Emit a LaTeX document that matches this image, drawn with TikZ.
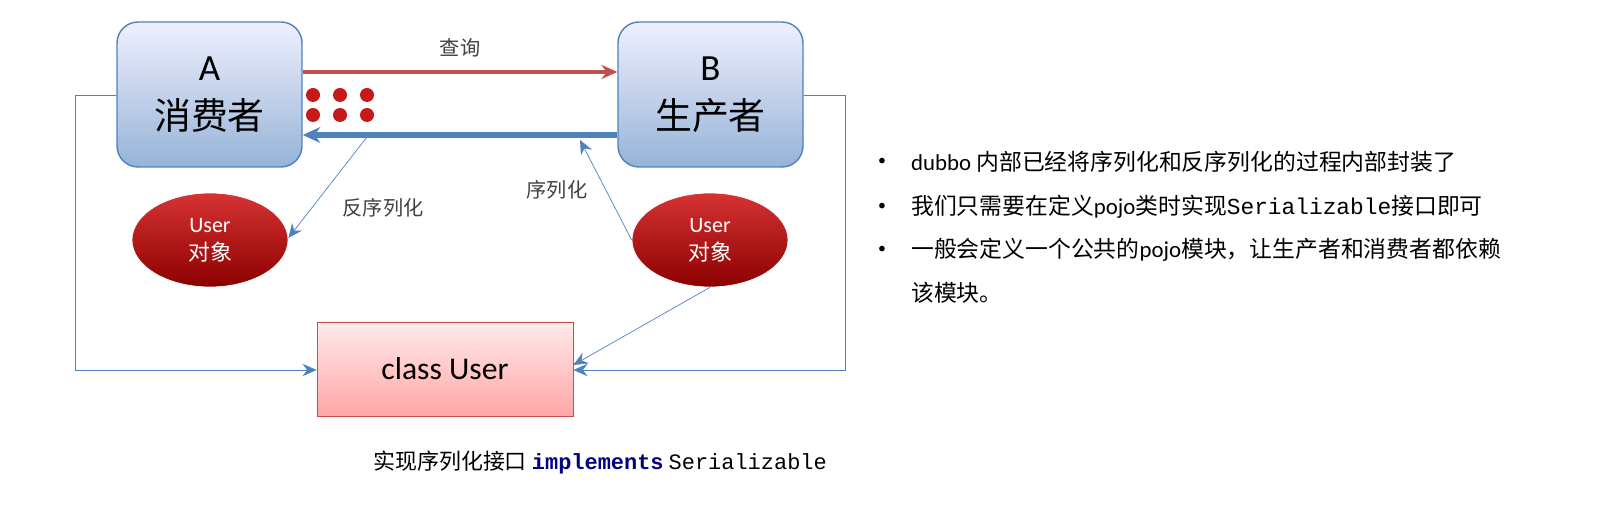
\documentclass[tikz,border=0pt]{standalone}
\usepackage{fontspec}
\setmainfont{Carlito}
\setmonofont{Liberation Mono}
\newfontfamily\cjk{Noto Sans CJK SC}
\usetikzlibrary{shapes.geometric,arrows.meta}
\definecolor{boxblue}{RGB}{79,129,189}
\definecolor{arrred}{RGB}{192,80,77}
\definecolor{kwnavy}{RGB}{0,0,128}
\tikzset{
  rolebox/.style={draw=boxblue, thick, rounded corners=12pt, top color=blue!6, bottom color=boxblue!60,
    minimum width=185*0.02cm, minimum height=145*0.02cm, align=center, font=\fontsize{21}{28}\selectfont},
  userobj/.style={ellipse, draw=white, top color=red!80!black!80, bottom color=red!55!black, text=white,
    minimum width=156*0.02cm, minimum height=94*0.02cm, align=center, font=\fontsize{12.5}{16}\selectfont},
  thin link/.style={draw=boxblue, -{Stealth[length=8pt,width=7pt]}},
  tag/.style={text=black!75, font=\cjk\fontsize{11.5}{13}\selectfont},
  reddot/.style={circle, fill=red!75!black!90, inner sep=0pt, minimum size=14*0.02cm},
  bullettext/.style={anchor=west, font=\fontsize{13}{15}\selectfont}
}
\begin{document}
\begin{tikzpicture}[x=0.02cm, y=-0.02cm]
  \useasboundingbox (0,0) rectangle (1622,506);

  \node[rolebox] (a) at (209.5,94.5) {A\\{\cjk 消费者}};
  \node[rolebox] (b) at (710.5,94.5) {B\\{\cjk 生产者}};
  \node[userobj] (ua) at (210,240) {User\\{\cjk 对象}};
  \node[userobj] (ub) at (710,240) {User\\{\cjk 对象}};
  \node[draw=arrred, top color=red!8, bottom color=red!35, minimum width=256*0.02cm, minimum height=94*0.02cm,
    font=\fontsize{18}{20}\selectfont] (cls) at (445,369) {class User};

  % query and transfer
  \draw[arrred, line width=2.5pt, -{Stealth[length=9pt,width=8pt]}] (a.east |- 0,72) -- (b.west |- 0,72)
    node[midway, above=4pt, tag] {查询};
  \draw[boxblue, line width=3pt, -{Stealth[length=10pt,width=9pt]}] (b.west |- 0,135) -- (a.east |- 0,135);
  \foreach \x in {313,340,367} {
    \foreach \y in {95,115} {
      \node[reddot] at (\x,\y) {};
    }
  }

  % serialization links
  \coordinate (deser) at (367,137);
  \coordinate (ser) at (580,140);
  \draw[thin link] (deser) -- (ua.east |- 0,238);
  \node[tag] at (383,208) {反序列化};
  \draw[thin link] (ub.west) -- (ser);
  \node[tag] at (557,190) {序列化};
  \draw[thin link] (ub.south) -- (cls.east |- 0,365);

  % dependencies on class User
  \draw[thin link] (a.west |- 0,95) -| (75,370) -- (cls.west |- 0,370);
  \draw[thin link] (b.east |- 0,95) -| (845,370) -- (cls.east |- 0,370);

  \node[font=\fontsize{12.5}{15}\selectfont] (impl) at (600,462)
    {{\cjk 实现序列化接口} {\ttfamily\bfseries\color{kwnavy}implements} {\ttfamily Serializable}};

  \foreach \y/\t in {162/{dubbo {\cjk 内部已经将序列化和反序列化的过程内部封装了}},
                     207/{{\cjk 我们只需要在定义}pojo{\cjk 类时实现}{\ttfamily Serializable}{\cjk 接口即可}},
                     250/{{\cjk 一般会定义一个公共的}pojo{\cjk 模块，让生产者和消费者都依赖}},
                     293/{{\cjk 该模块。}}} {
    \node[bullettext] at (905,\y) {\t};
  }
  \foreach \y in {162,207,250} {
    \node[font=\small] at (882,\y) {•};
  }
\end{tikzpicture}
\end{document}
